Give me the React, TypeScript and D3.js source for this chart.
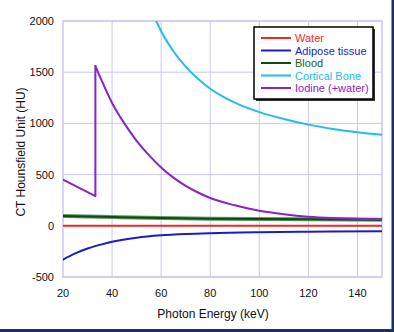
import React from "react";
import * as d3 from "d3";

const xTicks = [20, 40, 60, 80, 100, 120, 140];
const yTicks = [-500, 0, 500, 1000, 1500, 2000];

const waterE = [20, 150];
const waterHU = [0, 0];

const adiposeE = [20, 25, 30, 35, 40, 50, 60, 70, 80, 100, 120, 150];
const adiposeHU = [-330, -270, -222, -186, -156, -116, -93, -80, -72, -63, -58, -53];

const bloodE = [20, 40, 60, 80, 100, 120, 150];
const bloodHU = [95, 85, 76, 70, 66, 63, 60];

const boneE = [56, 58, 60, 65, 70, 75, 80, 85, 90, 100, 110, 120, 130, 140, 150];
const boneHU = [2110, 2000, 1900, 1705, 1555, 1435, 1338, 1263, 1202, 1110, 1043, 988, 946, 913, 888];

const iodinePreE = [20, 33.2];
const iodinePreHU = [450, 290];
const iodinePostE = [33.2, 35, 40, 45, 50, 55, 60, 65, 70, 75, 80, 90, 100, 110, 120, 130, 140, 150];
const iodinePostHU = [1560, 1460, 1200, 1000, 830, 690, 570, 470, 390, 325, 272, 200, 146, 112, 88, 75, 68, 64];

const legendNames = ["Water", "Adipose tissue", "Blood", "Cortical Bone", "Iodine (+water)"];
const legendColors = ["#ee2a22", "#1c1cc4", "#0f4a12", "#22bde8", "#8a22c8"];
const legendTextColors = ["#ee2a22", "#1c1cc4", "#1f5a1f", "#22bde8", "#8a22c8"];

export default function App() {
  const W = 394, H = 332;
  const left = 63, right = 382, top = 21, bottom = 277;
  const x = d3.scaleLinear().domain([20, 150]).range([left, right]);
  const y = d3.scaleLinear().domain([-500, 2000]).range([bottom, top]);
  const font = "'Liberation Sans', Arial, sans-serif";

  const mono = (es: number[], hs: number[]) =>
    d3.line<number>().x((_, i) => x(es[i])).y((_, i) => y(hs[i])).curve(d3.curveMonotoneX)(es) || "";
  const lin = (es: number[], hs: number[]) =>
    d3.line<number>().x((_, i) => x(es[i])).y((_, i) => y(hs[i]))(es) || "";

  const grid = "#c9c9ee";

  return (
    <svg width={W} height={H} style={{ position: "absolute", left: 0, top: 0, background: "#fff" }} fontFamily={font}>
      <defs>
        <clipPath id="plot">
          <rect x={left} y={top} width={right - left} height={bottom - top} />
        </clipPath>
      </defs>
      <rect x={0} y={0} width={W} height={H} fill="#fff" />
      {xTicks.slice(1).map((t) => (
        <line key={"gx" + t} x1={x(t)} x2={x(t)} y1={top} y2={bottom} stroke={grid} strokeWidth={1} />
      ))}
      {yTicks.map((t) => (
        <line key={"gy" + t} x1={left} x2={right} y1={y(t)} y2={y(t)} stroke={grid} strokeWidth={1} />
      ))}
      <rect x={left} y={top} width={right - left} height={bottom - top} fill="none" stroke={grid} strokeWidth={1.5} />
      <g clipPath="url(#plot)" fill="none" strokeLinejoin="round" strokeLinecap="round">
        <path d={lin(waterE, waterHU)} stroke={legendColors[0]} strokeWidth={2} />
        <path d={mono(bloodE, bloodHU)} stroke="#5f9a5f" strokeWidth={4} />
        <path d={mono(bloodE, bloodHU)} stroke={legendColors[2]} strokeWidth={2} />
        <path d={mono(adiposeE, adiposeHU)} stroke={legendColors[1]} strokeWidth={2} />
        <path d={mono(boneE, boneHU)} stroke={legendColors[3]} strokeWidth={2} />
        <path d={lin(iodinePreE, iodinePreHU) + "L" + x(iodinePostE[0]) + "," + y(iodinePostHU[0])} stroke={legendColors[4]} strokeWidth={2} />
        <path d={mono(iodinePostE, iodinePostHU)} stroke={legendColors[4]} strokeWidth={2} />
      </g>
      {yTicks.map((t) => (
        <text key={"ty" + t} x={54} y={y(t) + 4} textAnchor="end" fontSize={11} fill="#111">{t}</text>
      ))}
      {xTicks.map((t) => (
        <text key={"tx" + t} x={x(t)} y={297} textAnchor="middle" fontSize={11} fill="#111">{t}</text>
      ))}
      <text x={213} y={318} textAnchor="middle" fontSize={12} fill="#111">Photon Energy (keV)</text>
      <text transform={`translate(25,${(top + bottom) / 2 + 3}) rotate(-90)`} textAnchor="middle" fontSize={12} fill="#111">CT Hounsfield Unit (HU)</text>
      <g>
        <rect x={256} y={29} width={119} height={72} fill="#333" />
        <rect x={254} y={27} width={119} height={72} fill="#fff" stroke="#000" strokeWidth={1.5} />
        {legendNames.map((n, i) => (
          <g key={n}>
            <line x1={261} x2={291} y1={38 + i * 12.5} y2={38 + i * 12.5} stroke={legendColors[i]} strokeWidth={2} />
            <text x={295} y={42 + i * 12.5} fontSize={11} fill={legendTextColors[i]}>{n}</text>
          </g>
        ))}
      </g>
      <line x1={393} x2={393} y1={0} y2={H} stroke="#1b2f6b" strokeWidth={3} />
      <line x1={0} x2={W} y1={330.5} y2={330.5} stroke="#1b2f6b" strokeWidth={3} />
    </svg>
  );
}
